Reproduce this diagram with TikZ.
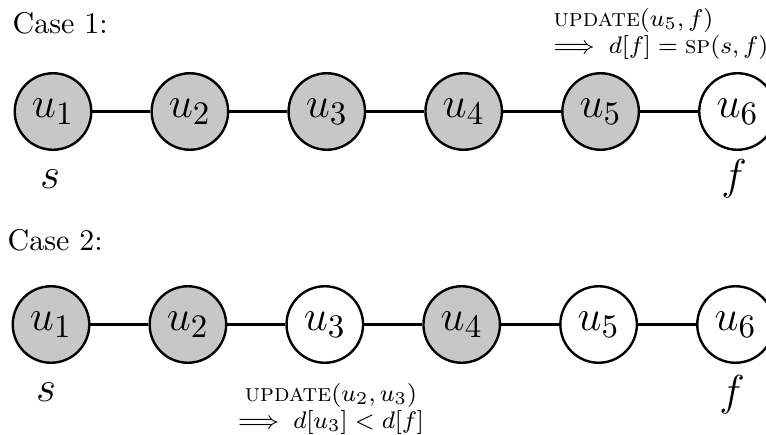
\documentclass[tikz,border=0pt]{standalone}
\usepackage{amsmath}
\usetikzlibrary{positioning}
\begin{document}
\begin{tikzpicture}[x=0.3333pt,y=-0.3333pt,
        vert/.style={draw,circle,thick,minimum size=25.5pt,inner sep=0pt,font=\fontsize{15}{18}\selectfont},
        done/.style={vert,fill=black!22},
        open/.style={vert,fill=white},
        lbl/.style={font=\Large,inner sep=0pt,anchor=base},
        note/.style={font=\fontsize{8.3}{9}\selectfont,inner sep=0pt}]
    \useasboundingbox (0,0) rectangle (766,434);
    % case 1
    \node[anchor=base west,inner sep=0pt] (case1) at (12,34) {Case 1:};
    \foreach \i/\k in {1/done,2/done,3/done,4/done,5/done,6/open}
        \node[\k] (a\i) at ({53+136.9*(\i-1)},111.5) {$u_\i$};
    \foreach \i/\j in {1/2,2/3,3/4,4/5,5/6}
        \draw[thick] (a\i) -- (a\j);
    \node[lbl] (sa) at (50,188) {$s$};
    \node[lbl] (fa) at (734,189) {$f$};
    \node[note,anchor=north west,align=left] (upd1) at (553,8)
        {$\textsc{update}(u_5, f)$\\$\Longrightarrow\; d[f] = \textsc{sp}(s, f)$};
    % case 2
    \node[anchor=base west,inner sep=0pt] (case2) at (7,250) {Case 2:};
    \foreach \i/\k in {1/done,2/done,3/open,4/done,5/open,6/open}
        \node[\k] (b\i) at ({51+136.9*(\i-1)},324.5) {$u_\i$};
    \foreach \i/\j in {1/2,2/3,3/4,4/5,5/6}
        \draw[thick] (b\i) -- (b\j);
    \node[lbl] (sb) at (46,401) {$s$};
    \node[lbl] (fb) at (732,405) {$f$};
    \node[note,anchor=north,align=center] (upd2) at (331,383)
        {$\textsc{update}(u_2, u_3)$\\$\Longrightarrow\; d[u_3] < d[f]$};
\end{tikzpicture}
\end{document}
